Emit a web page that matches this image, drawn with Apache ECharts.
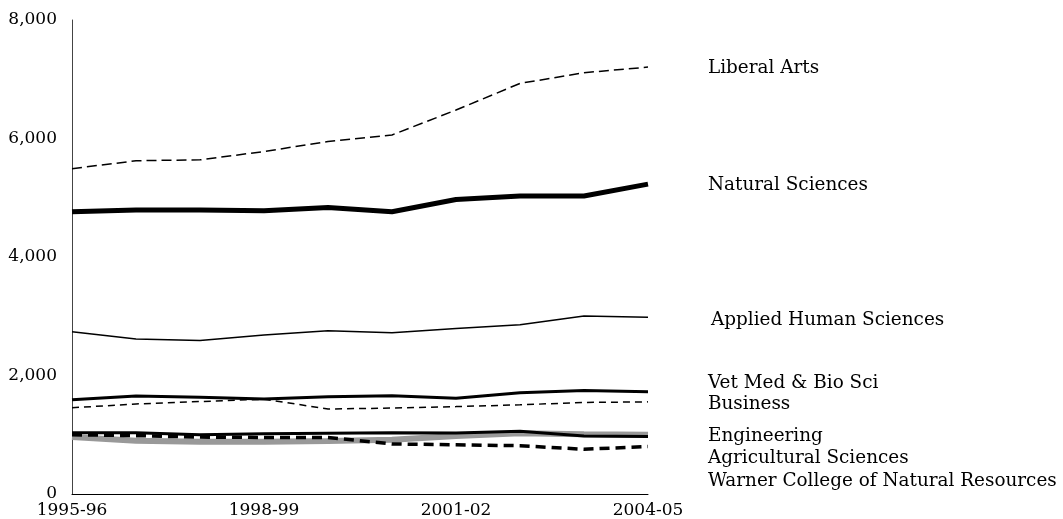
<!DOCTYPE html>
<html>
<head>
<meta charset="utf-8">
<script src="https://cdn.jsdelivr.net/npm/echarts@6/dist/echarts.min.js"></script>
<style>html,body{margin:0;padding:0;background:#fff}#c{width:1063px;height:519px}</style>
</head>
<body>
<div id="c"></div>
<script>
const years = ['1995-96','1996-97','1997-98','1998-99','1999-00','2000-01','2001-02','2002-03','2003-04','2004-05'];
const liberalArts    = [5490, 5625, 5640, 5780, 5950, 6060, 6480, 6930, 7110, 7205];
const naturalSci     = [4765, 4795, 4795, 4780, 4835, 4765, 4970, 5030, 5030, 5230];
const appliedHuman   = [2740, 2615, 2590, 2685, 2755, 2720, 2795, 2855, 3005, 2985];
const vetMed         = [1590, 1655, 1635, 1605, 1640, 1660, 1615, 1710, 1745, 1725];
const business       = [1455, 1520, 1560, 1600, 1435, 1450, 1475, 1505, 1545, 1555];
const engineering    = [1035, 1035, 1000, 1015, 1025, 1035, 1030, 1060, 980, 970];
const agSci          = [1000, 985, 960, 955, 955, 845, 830, 815, 755, 800];
const warner         = [960, 900, 880, 880, 895, 915, 980, 1025, 1010, 1000];
const yTicks = [0, 2000, 4000, 6000, 8000];

const FONT = 'DejaVu Serif';
function mk(name, data, lw, type, color, dist, dy) {
  return {
    name, type: 'line', data, symbol: 'none', silent: true,
    lineStyle: { width: lw, type: type, color: color, cap: 'butt' },
    endLabel: {
      show: true, formatter: name, distance: dist, offset: [0, dy],
      fontFamily: FONT, fontSize: 18.4, color: '#000'
    },
    emphasis: { disabled: true }
  };
}
const chart = echarts.init(document.getElementById('c'));
chart.setOption({
  animation: false,
  backgroundColor: '#fff',
  grid: { left: 72, right: 415, top: 20, bottom: 25, containLabel: false },
  xAxis: {
    type: 'category', data: years, boundaryGap: false,
    axisLine: { lineStyle: { color: '#000', width: 1 } },
    axisTick: { show: false },
    axisLabel: { interval: 2, color: '#000', fontFamily: FONT, fontSize: 17, margin: 8 },
    splitLine: { show: false }
  },
  yAxis: {
    type: 'value', min: yTicks[0], max: yTicks[yTicks.length - 1], interval: 2000,
    axisLine: { show: true, lineStyle: { color: '#444', width: 1 } },
    axisTick: { show: false },
    splitLine: { show: false },
    axisLabel: { color: '#000', fontFamily: FONT, fontSize: 17, margin: 15,
      formatter: v => v.toLocaleString('en-US') }
  },
  series: [
    mk('Warner College of Natural Resources', warner, 6, 'solid', '#999999', 60, 46),
    mk('Agricultural Sciences', agSci, 3.5, [10, 6], '#000', 60, 12),
    mk('Engineering', engineering, 3, 'solid', '#000', 60, 0),
    mk('Business', business, 1.5, [7, 5], '#000', 60, 2),
    mk('Vet Med & Bio Sci', vetMed, 3, 'solid', '#000', 60, -9),
    mk('Applied Human Sciences', appliedHuman, 1.5, 'solid', '#000', 63, 3),
    mk('Natural Sciences', naturalSci, 5, 'solid', '#000', 60, 1),
    mk('Liberal Arts', liberalArts, 1.5, [10, 5], '#000', 60, 1)
  ]
});
</script>
</body>
</html>
